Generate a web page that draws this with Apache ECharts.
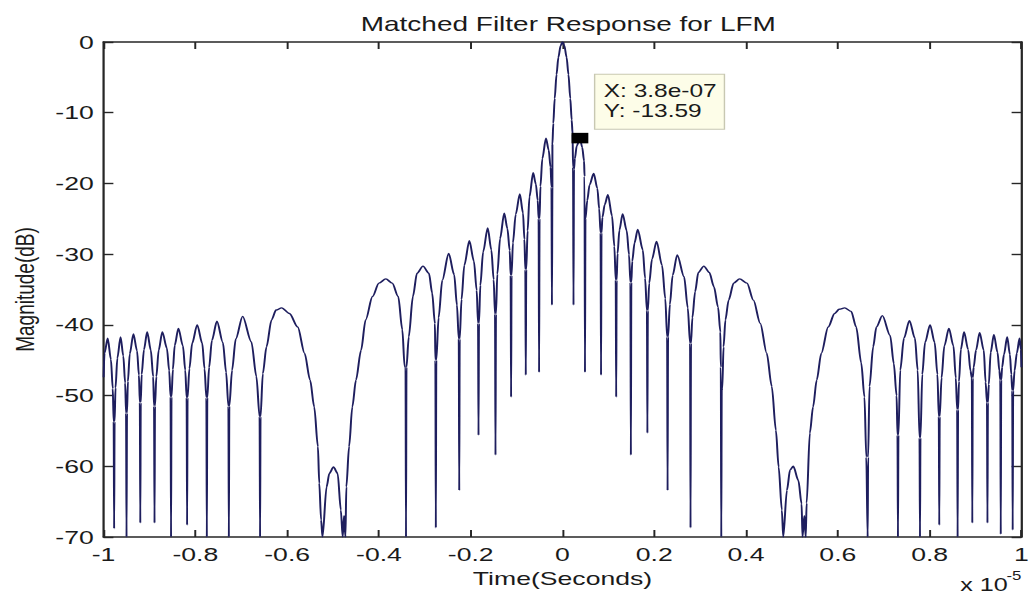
<!DOCTYPE html>
<html><head><meta charset="utf-8">
<script src="https://cdn.jsdelivr.net/npm/echarts@6/dist/echarts.min.js"></script>
<style>
html,body{margin:0;padding:0;background:#fff;overflow:hidden;}
#wrap{width:1033px;height:597px;overflow:hidden;}
#chart{width:738px;height:597px;transform:scaleX(1.39973);transform-origin:0 0;}
</style></head><body>
<div id="wrap"><div id="chart"></div></div>
<script>
// time in units of 1e-5 s, magnitude in dB
const leftTail = [
[-1.000,-47.4],[-0.998,-44.0],[-0.991,-41.9],[-0.984,-44.9],[-0.980,-49.0],[-0.978,-53.7],[-0.977,-68.8],[-0.976,-53.7],
[-0.974,-48.9],[-0.970,-44.7],[-0.963,-41.7],[-0.957,-44.4],[-0.953,-48.2],[-0.951,-52.5],[-0.950,-70.0],[-0.949,-52.5],
[-0.947,-48.0],[-0.943,-44.1],[-0.935,-41.3],[-0.927,-43.7],[-0.923,-47.1],[-0.921,-51.0],[-0.920,-68.0],[-0.919,-51.0],
[-0.917,-47.0],[-0.912,-43.5],[-0.905,-41.0],[-0.897,-43.6],[-0.892,-47.3],[-0.890,-51.5],[-0.889,-68.0],[-0.888,-51.5],
[-0.885,-47.3],[-0.880,-43.6],[-0.872,-41.0],[-0.862,-43.3],[-0.857,-46.5],[-0.854,-50.2],[-0.853,-70.0],[-0.852,-50.2],
[-0.849,-46.3],[-0.845,-42.9],[-0.837,-40.5],[-0.827,-43.0],[-0.822,-46.4],[-0.819,-50.3],[-0.818,-68.3],[-0.817,-50.3],
[-0.813,-46.2],[-0.807,-42.6],[-0.796,-40.0],[-0.785,-42.6],[-0.780,-46.2],[-0.776,-50.3],[-0.775,-70.0],[-0.774,-50.3],
[-0.770,-46.0],[-0.764,-42.2],[-0.753,-39.5],[-0.740,-42.5],[-0.733,-46.7],[-0.728,-51.5],[-0.727,-70.0],[-0.726,-51.5],
[-0.720,-46.4],[-0.712,-42.0],[-0.697,-38.8],[-0.678,-42.4],[-0.667,-47.3],[-0.660,-53.0],[-0.659,-70.0],[-0.658,-53.0]
];
const leftWideLobes = [
[-0.653,-46.9],[-0.645,-43.1],[-0.634,-39.3],[-0.624,-37.9],[-0.612,-37.6],[-0.595,-38.4],[-0.577,-40.3],[-0.562,-44.0],
[-0.550,-47.8],[-0.541,-51.6],[-0.533,-57.2],[-0.530,-62.4],[-0.526,-67.6],[-0.523,-70.0],
[-0.514,-62.9],[-0.508,-61.0],[-0.499,-60.1],[-0.490,-61.0],[-0.483,-66.2],[-0.479,-70.0],[-0.476,-67.0],[-0.473,-70.0],
[-0.471,-62.9],[-0.465,-57.2],[-0.458,-51.6],[-0.450,-47.8],[-0.439,-43.6],[-0.429,-39.3],[-0.414,-36.0],[-0.400,-34.1],
[-0.385,-33.5],[-0.371,-34.1],[-0.358,-36.0],[-0.349,-40.7],[-0.344,-45.9],[-0.342,-46.0],[-0.341,-70.0],[-0.340,-46.0]
];
const centerLeft = [
[-0.335,-41.7],[-0.326,-36.0],[-0.317,-32.7],[-0.304,-31.7],[-0.291,-32.7],[-0.284,-35.5],[-0.278,-39.8],[-0.277,-45.0],[-0.276,-68.7],[-0.275,-45.0],
[-0.270,-39.0],[-0.262,-33.7],[-0.248,-29.9],[-0.236,-32.9],[-0.230,-37.2],[-0.226,-42.0],[-0.225,-63.4],[-0.224,-42.0],
[-0.220,-36.4],[-0.214,-31.6],[-0.203,-28.1],[-0.193,-31.0],[-0.187,-35.1],[-0.184,-39.8],[-0.183,-55.6],[-0.182,-39.8],
[-0.179,-34.4],[-0.173,-29.7],[-0.163,-26.3],[-0.155,-29.4],[-0.150,-33.6],[-0.147,-38.5],[-0.146,-58.4],[-0.145,-38.5],
[-0.142,-32.8],[-0.136,-27.8],[-0.127,-24.2],[-0.120,-26.4],[-0.115,-29.5],[-0.113,-33.0],[-0.112,-50.2],[-0.111,-33.0],
[-0.108,-28.4],[-0.102,-24.4],[-0.093,-21.5],[-0.086,-24.2],[-0.083,-27.9],[-0.081,-32.2],[-0.080,-47.1],[-0.079,-32.2],
[-0.076,-26.7],[-0.072,-21.9],[-0.064,-18.5],[-0.058,-20.1],[-0.054,-22.4],[-0.052,-25.0],[-0.051,-46.7],[-0.050,-25.0],
[-0.048,-20.4],[-0.044,-16.5],[-0.036,-13.6],[-0.030,-15.3],[-0.026,-17.7],[-0.024,-20.5],[-0.023,-37.2],[-0.022,-20.5]
];
const mainLobe = [
[-0.022,-14.5],[-0.020,-11.5],[-0.017,-8.0],[-0.013,-4.6],[-0.009,-2.2],[-0.004,-0.5],[0.000,0.0],[0.004,-0.5],
[0.009,-2.2],[0.013,-4.6],[0.017,-8.0],[0.020,-11.0],[0.022,-13.0],[0.023,-17.7],[0.024,-37.2],[0.025,-18.0]
];
const centerRight = [
[0.027,-16.5],[0.031,-14.7],[0.038,-13.6],[0.043,-14.9],[0.047,-16.8],[0.048,-19.0],[0.049,-46.7],[0.050,-25.0],
[0.054,-22.4],[0.059,-20.2],[0.068,-18.6],[0.076,-20.7],[0.080,-23.6],[0.083,-27.0],[0.084,-47.1],[0.085,-27.0],
[0.087,-24.8],[0.092,-23.0],[0.099,-21.6],[0.108,-24.6],[0.113,-28.9],[0.116,-33.7],[0.117,-50.2],[0.118,-33.7],
[0.120,-29.9],[0.124,-26.6],[0.131,-24.3],[0.140,-26.7],[0.145,-30.1],[0.148,-34.0],[0.149,-58.4],[0.150,-34.0],
[0.152,-31.0],[0.157,-28.4],[0.164,-26.5],[0.175,-29.4],[0.180,-33.4],[0.184,-38.0],[0.185,-55.3],[0.186,-38.0],
[0.189,-34.1],[0.195,-30.7],[0.205,-28.2],[0.217,-31.6],[0.224,-36.3],[0.228,-41.7],[0.229,-63.4],[0.230,-41.7],
[0.234,-37.1],[0.240,-33.0],[0.250,-30.1],[0.265,-33.2],[0.273,-37.6],[0.278,-42.6],[0.279,-68.7],[0.280,-42.6],
[0.283,-39.0],[0.289,-35.3],[0.296,-32.6],[0.308,-31.7],[0.320,-32.6],[0.330,-34.6],[0.339,-37.5],[0.344,-41.0],
[0.345,-46.0],[0.346,-70.0],[0.347,-49.0]
];
const rightWideLobes = [
[0.348,-49.2],[0.351,-43.1],[0.355,-39.3],[0.362,-36.5],[0.373,-34.1],[0.386,-33.5],[0.402,-34.1],[0.416,-36.5],
[0.431,-39.8],[0.445,-44.0],[0.456,-48.7],[0.465,-54.9],[0.471,-60.1],[0.478,-66.2],[0.481,-70.0],
[0.489,-63.4],[0.496,-60.5],[0.503,-60.0],[0.514,-62.0],[0.521,-65.3],[0.523,-70.0],[0.527,-67.0],[0.530,-70.0],
[0.532,-65.2],[0.539,-55.3],[0.546,-51.6],[0.554,-47.8],[0.564,-44.0],[0.579,-40.3],[0.593,-38.4],[0.603,-37.8],
[0.615,-37.6],[0.629,-38.1],[0.640,-40.3],[0.651,-45.4],[0.658,-50.2],[0.662,-58.7],[0.665,-70.0],[0.666,-58.7]
];
const rightTail = [
[0.669,-48.7],[0.677,-43.1],[0.684,-40.3],[0.697,-38.7],[0.714,-41.5],[0.722,-45.5],[0.728,-50.0],[0.730,-55.6],[0.731,-70.0],[0.732,-55.6],
[0.736,-46.4],[0.744,-41.9],[0.756,-39.4],[0.768,-41.9],[0.774,-46.4],[0.778,-56.0],[0.779,-70.0],[0.780,-56.0],
[0.784,-47.0],[0.790,-42.5],[0.801,-40.0],[0.811,-42.5],[0.817,-47.0],[0.820,-53.0],[0.821,-68.3],[0.822,-53.0],
[0.826,-47.5],[0.832,-43.0],[0.842,-40.5],[0.852,-43.0],[0.857,-47.5],[0.860,-52.0],[0.861,-70.0],[0.862,-52.0],
[0.864,-48.0],[0.868,-43.5],[0.875,-41.0],[0.884,-43.5],[0.889,-46.5],[0.892,-47.5],[0.893,-68.0],[0.894,-47.5],
[0.896,-46.0],[0.901,-43.6],[0.909,-41.1],[0.918,-43.6],[0.922,-48.1],[0.925,-51.0],[0.926,-68.0],[0.927,-51.0],
[0.929,-48.4],[0.933,-43.9],[0.940,-41.4],[0.948,-43.9],[0.952,-46.5],[0.954,-47.8],[0.955,-69.6],[0.956,-47.8],
[0.958,-46.0],[0.962,-44.2],[0.969,-41.7],[0.975,-44.2],[0.978,-47.0],[0.980,-49.3],[0.981,-69.0],[0.982,-49.3],
[0.985,-46.5],[0.990,-44.0],[0.996,-41.9],[0.999,-43.5],[1.000,-46.0]
];
const dataTip = [0.038, -13.59];
const dataTipLines = ['X: 3.8e-07', 'Y: -13.59'];
const titleText = 'Matched Filter Response for LFM';
const xName = 'Time(Seconds)';
const yName = 'Magnitude(dB)';
const xRange = [-1, 1, 0.2];
const yRange = [-70, 0, 10];

const response = [].concat(leftTail, leftWideLobes, centerLeft, mainLobe, centerRight, rightWideLobes, rightTail);

const FONT = "'Liberation Sans', Arial, Helvetica, sans-serif";
const INK = '#1a1a1a';
const AXIS = '#262626';
const axisLine = { show: true, onZero: false, lineStyle: { color: AXIS, width: 1.6 } };
const tick = { show: true, inside: true, length: 7, lineStyle: { color: AXIS, width: 1.4 } };

const chart = echarts.init(document.getElementById('chart'), null, { renderer: 'svg' });
chart.setOption({
  animation: false,
  backgroundColor: '#ffffff',
  title: {
    text: titleText, left: 401, top: 9, textAlign: 'center',
    textStyle: { fontFamily: FONT, fontSize: 20, fontWeight: 'normal', color: INK }
  },
  grid: { left: 74, right: 5, top: 42, bottom: 60, containLabel: false },
  xAxis: [
    { type: 'value', min: xRange[0], max: xRange[1], interval: xRange[2], position: 'bottom',
      name: xName, nameLocation: 'middle', nameGap: 30,
      nameTextStyle: { fontFamily: FONT, fontSize: 19, color: INK },
      axisLine: axisLine, axisTick: tick, splitLine: { show: false },
      axisLabel: { margin: 8, fontFamily: FONT, fontSize: 19, color: INK } },
    { type: 'value', min: xRange[0], max: xRange[1], interval: xRange[2], position: 'top',
      axisLine: axisLine, axisTick: tick, splitLine: { show: false }, axisLabel: { show: false } }
  ],
  yAxis: [
    { type: 'value', min: yRange[0], max: yRange[1], interval: yRange[2], position: 'left',
      name: yName, nameLocation: 'middle', nameGap: 47,
      nameTextStyle: { fontFamily: FONT, fontSize: 19, color: INK },
      axisLine: axisLine, axisTick: tick, splitLine: { show: false },
      axisLabel: { margin: 7, fontFamily: FONT, fontSize: 19, color: INK } },
    { type: 'value', min: yRange[0], max: yRange[1], interval: yRange[2], position: 'right',
      axisLine: axisLine, axisTick: tick, splitLine: { show: false }, axisLabel: { show: false } }
  ],
  series: [
    { type: 'line', data: response, showSymbol: false, symbol: 'none', clip: true,
      smooth: 0.3, smoothMonotone: 'x',
      lineStyle: { color: '#1e1e5e', width: 1.4 }, z: 2 },
    { type: 'scatter', data: [dataTip], symbol: 'rect', symbolSize: [12, 10.5],
      itemStyle: { color: '#000000', opacity: 1 }, z: 5,
      label: { show: true, position: [17, -58], formatter: dataTipLines.join('\n'),
        backgroundColor: '#fdfde8', borderColor: '#c8c8b2', borderWidth: 1,
        padding: [6, 5, 7, 6], lineHeight: 20.5, fontSize: 17.5, fontFamily: FONT, color: INK } }
  ],
  graphic: [
    { type: 'text', left: 686, top: 576, style: { text: 'x 10', fontFamily: FONT, fontSize: 18, fill: INK } },
    { type: 'text', left: 719, top: 570, style: { text: '-5', fontFamily: FONT, fontSize: 12, fill: INK } }
  ]
});
</script>
</body></html>
